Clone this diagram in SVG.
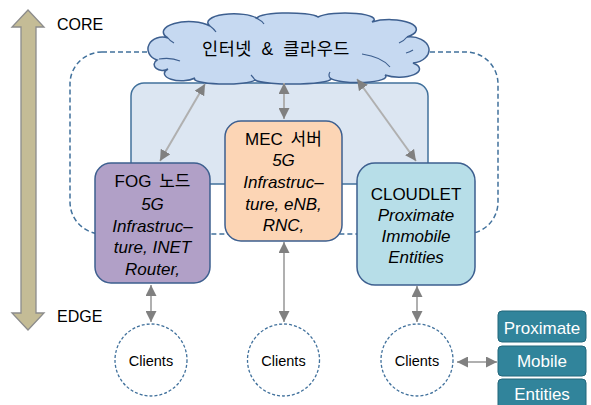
<svg xmlns="http://www.w3.org/2000/svg" width="591" height="405" viewBox="0 0 591 405">
<style>
text{font-family:"Liberation Sans","Noto Sans CJK KR",sans-serif;fill:#000}
.lbl{font-size:17px;text-anchor:middle}
.it{font-style:italic}
.node{stroke:#3d5f8f;stroke-width:1.5}
.conn{stroke:#b0b0b0;stroke-width:2;fill:none;marker-start:url(#ah);marker-end:url(#ah)}
.client{fill:#fff;stroke:#41719c;stroke-width:1.3;stroke-dasharray:3 2}
.teal{fill:#31849b;stroke:#23667a;stroke-width:1}
.wt{fill:#fff;font-size:17px;text-anchor:middle}
</style>
<defs>
<marker id="ah" viewBox="0 0 10 10" refX="10" refY="5" markerWidth="11" markerHeight="11" markerUnits="userSpaceOnUse" orient="auto-start-reverse">
<path d="M0,0 L10,5 L0,10 Z" fill="#808080"/>
</marker>
</defs>

<g id="core-edge-axis">
<path d="M28,10 L44,27 L36,27 L36,313 L44,313 L28,330 L12,313 L21,313 L21,27 L12,27 Z" fill="#c4bc96" stroke="#8c8c8c" stroke-width="1.3"/>
<text x="57" y="30" style="font-size:16px">CORE</text>
<text x="57" y="322" style="font-size:16px">EDGE</text>
</g>

<g id="dashed-region">
<rect x="70" y="52" width="428" height="182" rx="32" fill="none" stroke="#41719c" stroke-width="1.5" stroke-dasharray="5 3"/>
</g>

<g id="mec-zone">
<rect x="131" y="83" width="297" height="101" rx="13" fill="#dce6f2" stroke="#41719c" stroke-width="1.5"/>
</g>

<g id="cloud">
<path d="M157,60 A11,9 0 0 1 168,38 A22,9 0 0 1 210,26 A24,8 0 0 1 258,19 A30,5 0 0 1 318,17 A27,6 0 0 1 372,22 A19,7 0 0 1 407,37 A13,9 0 0 1 413,63 A15,6 0 0 1 385,75 A28,6 0 0 1 330,78 A38,5 0 0 1 255,80 A30,5 0 0 1 195,78 A14,6 0 0 1 168,69 A7,5 0 0 1 157,60 Z" fill="#c6d9f1" stroke="#3d5f8f" stroke-width="1.5"/>
<path d="M159,59 Q171,57 180,61 M362,54 Q382,57 390,67 M407,37 Q404,41 399,43 M413,50 Q410,52 406,53 M255,80 Q253,77 251,75 M330,78 Q328,75 330,72 M210,26 Q214,29 216,32 M258,19 Q262,21 264,24 M168,38 Q170,41 174,43" fill="none" stroke="#3d5f8f" stroke-width="1.2"/>
<text x="276" y="55" style="font-size:17.5px;text-anchor:middle;letter-spacing:0.6px;word-spacing:4px">인터넷 &amp; 클라우드</text>
</g>

<g id="connectors">
<line class="conn" x1="205" y1="84" x2="160" y2="161"/>
<line class="conn" x1="284" y1="83" x2="284" y2="119"/>
<line class="conn" x1="357" y1="79" x2="416" y2="161"/>
<line class="conn" x1="151" y1="285" x2="151" y2="322"/>
<line class="conn" x1="284" y1="242" x2="284" y2="322"/>
<line class="conn" x1="417" y1="286" x2="417" y2="322"/>
<line class="conn" x1="457" y1="362" x2="497" y2="362"/>
</g>

<g id="fog-node">
<rect class="node" x="95" y="163" width="115" height="120" rx="16" fill="#b1a0c7"/>
<text class="lbl" x="152.5" y="187" style="word-spacing:3px">FOG 노드</text>
<text class="lbl it" x="152.5" y="210">5G</text>
<text class="lbl it" x="152.5" y="232">Infrastruc–</text>
<text class="lbl it" x="152.5" y="253">ture, INET</text>
<text class="lbl it" x="152.5" y="275">Router,</text>
</g>

<g id="mec-node">
<rect class="node" x="225" y="121" width="117" height="120" rx="16" fill="#fcd5b5"/>
<text class="lbl" x="283.5" y="145" style="word-spacing:3px">MEC 서버</text>
<text class="lbl it" x="283.5" y="166">5G</text>
<text class="lbl it" x="283.5" y="188">Infrastruc–</text>
<text class="lbl it" x="283.5" y="210">ture, eNB,</text>
<text class="lbl it" x="283.5" y="231">RNC,</text>
</g>

<g id="cloudlet-node">
<rect class="node" x="357" y="163" width="118" height="122" rx="18" fill="#b7dee8"/>
<text class="lbl" x="416" y="200">CLOUDLET</text>
<text class="lbl it" x="416" y="221">Proximate</text>
<text class="lbl it" x="416" y="242">Immobile</text>
<text class="lbl it" x="416" y="263">Entities</text>
</g>

<g id="clients-fog">
<circle class="client" cx="151" cy="360" r="36"/>
<text x="151" y="366" style="font-size:14.5px;text-anchor:middle">Clients</text>
</g>
<g id="clients-mec">
<circle class="client" cx="283.5" cy="360" r="36"/>
<text x="283.5" y="366" style="font-size:14.5px;text-anchor:middle">Clients</text>
</g>
<g id="clients-cloudlet">
<circle class="client" cx="417" cy="360" r="36"/>
<text x="417" y="366" style="font-size:14.5px;text-anchor:middle">Clients</text>
</g>

<g id="proximate">
<rect class="teal" x="498" y="311" width="88" height="31" rx="4"/>
<text class="wt" x="542" y="334">Proximate</text>
</g>
<g id="mobile">
<rect class="teal" x="498" y="346" width="88" height="30" rx="4"/>
<text class="wt" x="542" y="367">Mobile</text>
</g>
<g id="entities">
<rect class="teal" x="498" y="379" width="88" height="32" rx="4"/>
<text class="wt" x="542" y="400">Entities</text>
</g>
</svg>
